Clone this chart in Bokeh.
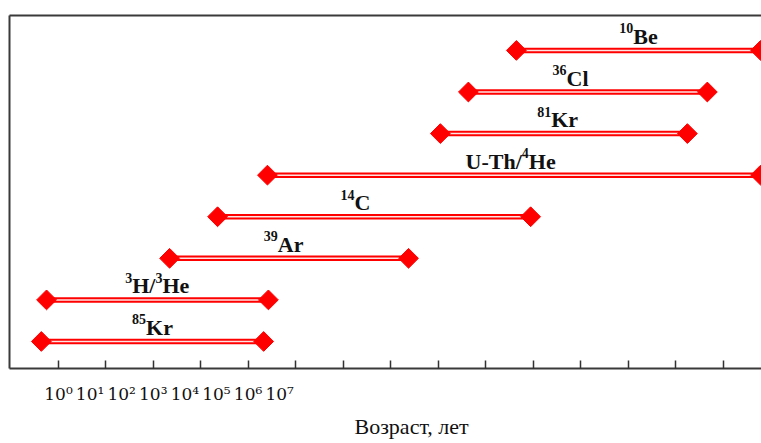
from bokeh.plotting import figure
from bokeh.models import Range1d, LinearAxis, FixedTicker, ColumnDataSource, Title
from bokeh.core.properties import value
from bokeh.embed import file_html
from bokeh.resources import INLINE

# ---- data (positions in decades along the log-age axis, tick index units) ----
isotopes = ["⁸⁵Kr", "³H/³He", "³⁹Ar", "¹⁴C", "U-Th/⁴He", "⁸¹Kr", "³⁶Cl", "¹⁰Be"]
# the same names split into (text, is_superscript) runs for drawing
label_parts = [
    [("85", True), ("Kr", False)],
    [("3", True), ("H/", False), ("3", True), ("He", False)],
    [("39", True), ("Ar", False)],
    [("14", True), ("C", False)],
    [("U-Th/", False), ("4", True), ("He", False)],
    [("81", True), ("Kr", False)],
    [("36", True), ("Cl", False)],
    [("10", True), ("Be", False)],
]
rows = [1, 2, 3, 4, 5, 6, 7, 8]
start_pos = [-0.36, -0.25, 2.34, 3.35, 4.40, 8.04, 8.63, 9.64]
end_pos = [4.32, 4.42, 7.37, 9.94, 14.78, 13.24, 13.66, 14.78]
label_pos = [1.98, 2.08, 4.74, 6.25, 9.52, 10.51, 10.78, 12.21]
tick_positions = list(range(15))
tick_label_text = ["10⁰", "10¹", "10²", "10³", "10⁴", "10⁵", "10⁶", "10⁷"]
axis_title = "Возраст, лет"

# ---- styling ----
MAIN_PX = 22
SUP_PX = 14
# Times/Liberation Serif Bold advance widths (per 1000 em) for run layout
ADV = {"K": 778, "r": 444, "H": 778, "/": 278, "e": 444, "A": 722, "C": 722,
       "U": 722, "-": 333, "T": 667, "h": 556, "l": 278, "B": 667}


def run_width(t, sup):
    size = SUP_PX if sup else MAIN_PX
    return sum(ADV.get(ch, 500) for ch in t) * size / 1000.0


main_d = dict(x=[], y=[], text=[], xo=[])
sup_d = dict(x=[], y=[], text=[], xo=[])
for parts, xc, yr in zip(label_parts, label_pos, rows):
    total = sum(run_width(t, s) for t, s in parts)
    off = -total / 2.0
    for t, s in parts:
        d = sup_d if s else main_d
        d["x"].append(xc)
        d["y"].append(yr)
        d["text"].append(t)
        d["xo"].append(off)
        off += run_width(t, s)

src = ColumnDataSource(dict(row=rows, start=start_pos, end=end_pos))

p = figure(width=761, height=443, output_backend="svg", toolbar_location=None,
           x_range=Range1d(-1.03, 14.80), y_range=Range1d(0.35, 8.84),
           min_border_left=9, min_border_right=0, min_border_top=15,
           min_border_bottom=0, outline_line_color=None,
           background_fill_color="white", border_fill_color="white")
p.grid.visible = False

FRAME = "#3a3a3a"

# bottom axis: ticks pointing inward, no labels
xa = p.xaxis[0]
xa.ticker = FixedTicker(ticks=tick_positions)
xa.major_label_overrides = {t: "" for t in tick_positions}
xa.major_tick_in = 8
xa.major_tick_out = 0
xa.minor_tick_line_color = None
xa.major_label_text_font_size = "0px"
xa.major_label_standoff = 0
xa.axis_line_width = 2
xa.axis_line_color = FRAME
xa.major_tick_line_color = "#333333"
xa.major_tick_line_width = 1.5

# left axis: line only
ya = p.yaxis[0]
ya.ticker = FixedTicker(ticks=[])
ya.major_tick_line_color = None
ya.minor_tick_line_color = None
ya.major_label_text_font_size = "0px"
ya.major_label_standoff = 0
ya.major_tick_out = 0
ya.major_tick_in = 0
ya.axis_line_width = 2
ya.axis_line_color = FRAME

# top frame line
top = LinearAxis(ticker=FixedTicker(ticks=[]), major_tick_line_color=None,
                 minor_tick_line_color=None, major_label_text_font_size="0px",
                 major_label_standoff=0, major_tick_out=0, major_tick_in=0,
                 axis_line_width=2, axis_line_color=FRAME)
p.add_layout(top, "above")

# compressed tick labels
p.extra_x_ranges = {"labels": Range1d(-1.55, 22.25)}
lab = LinearAxis(x_range_name="labels",
                 ticker=FixedTicker(ticks=list(range(len(tick_label_text)))),
                 major_label_overrides={i: t for i, t in enumerate(tick_label_text)},
                 axis_line_color=None, major_tick_line_color=None,
                 minor_tick_line_color=None, major_tick_out=0, major_tick_in=0,
                 major_label_standoff=15,
                 major_label_text_font="DejaVu Serif",
                 major_label_text_font_size="17px",
                 major_label_text_color="#111111")
p.add_layout(lab, "below")

p.add_layout(Title(text=axis_title, align="left", offset=345,
                   text_font="Liberation Serif", text_font_size="22px",
                   text_font_style="normal", text_color="#111111",
                   standoff=10), "below")

# bars: red double line
p.segment(x0="start", y0="row", x1="end", y1="row", source=src,
          line_color="#ff0000", line_width=5.5)
p.segment(x0="start", y0="row", x1="end", y1="row", source=src,
          line_color="#ffe4e4", line_width=1.5)
for col in ("start", "end"):
    p.scatter(x=col, y="row", source=src, marker="square", size=14,
              angle=0.785398, fill_color="#ff0000", line_color="#ff0000")

p.text(x="x", y="y", text="text", x_offset="xo", source=ColumnDataSource(main_d),
       text_font=value("Liberation Serif"), text_font_style="bold",
       text_font_size=f"{MAIN_PX}px", text_align="left", text_baseline="alphabetic",
       y_offset=-14, text_color="#111111")
p.text(x="x", y="y", text="text", x_offset="xo", source=ColumnDataSource(sup_d),
       text_font=value("Liberation Serif"), text_font_style="bold",
       text_font_size=f"{SUP_PX}px", text_align="left", text_baseline="alphabetic",
       y_offset=-22, text_color="#111111")

open("out.html", "w").write(file_html(p, INLINE))
